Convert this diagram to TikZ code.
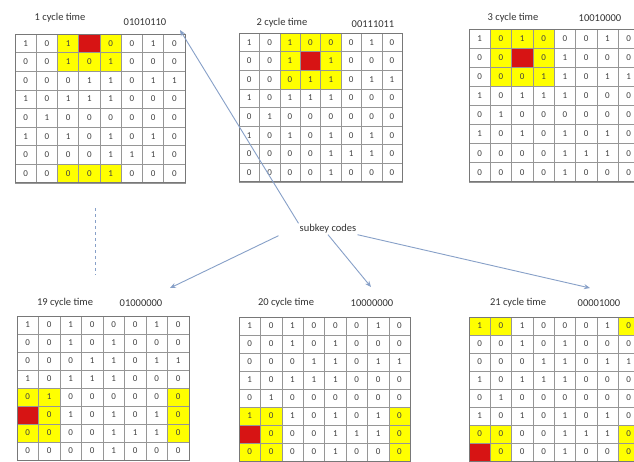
\documentclass[tikz,border=0pt]{standalone}
\usepackage{fontspec}
\setmainfont{Carlito}
\usetikzlibrary{arrows.meta,calc}
\definecolor{arrowc}{RGB}{135,160,200}
\definecolor{gridc}{RGB}{150,150,150}
\definecolor{gridd}{RGB}{120,120,120}
\definecolor{hired}{RGB}{215,20,20}
\definecolor{hiyel}{RGB}{255,255,0}
\tikzset{
  cellbox/.style={draw=gridc, line width=0.6pt, inner sep=0pt, outer sep=0pt,
    font=\fontsize{9}{10}\selectfont},
  titletext/.style={font=\fontsize{10.5}{12}\selectfont, text=black!80, inner sep=1pt},
  conn/.style={draw=arrowc, line width=0.9pt, -{Stealth[length=6pt,width=5pt]}},
  dashconn/.style={draw=arrowc, line width=0.9pt, dashed},
}
% #1 name, #2 left, #3 top, #4 cell width, #5 cell height, #6 yellow cells r/c, #7 red row, #8 red col
\newcommand\cellgrid[8]{%
  \begin{scope}[shift={(#2,#3)}]
    \foreach \yr/\yc in {#6} \fill[hiyel] ({(\yc-1)*#4},{(\yr-1)*#5}) rectangle ++(#4,#5);
    \fill[hired] ({(#8-1)*#4},{(#7-1)*#5}) rectangle ++(#4,#5);
    \foreach \rowdata [count=\r] in {{1,0,1,0,0,0,1,0},{0,0,1,0,1,0,0,0},{0,0,0,1,1,0,1,1},{1,0,1,1,1,0,0,0},{0,1,0,0,0,0,0,0},{1,0,1,0,1,0,1,0},{0,0,0,0,1,1,1,0},{0,0,0,0,1,0,0,0}}{
      \foreach \v [count=\c] in \rowdata {
        \pgfmathtruncatemacro\isred{and(\r==#7,\c==#8)}
        \ifnum\isred=1\relax\def\tc{hired}\else\def\tc{black!75}\fi
        \node[cellbox, minimum width=#4, minimum height=#5, text=\tc] (#1-\r-\c) at ({(\c-0.5)*#4},{(\r-0.5)*#5}) {\v};
      }
    }
    \draw[gridd, line width=0.8pt] (0,0) rectangle ({8*#4},{8*#5});
  \end{scope}}
\begin{document}
\begin{tikzpicture}[x=1pt,y=-1pt]
  \useasboundingbox (0,0) rectangle (634,461);
  \clip (0,0) rectangle (634,461);
  \fill[white] (0,0) rectangle (634,461);

  \cellgrid{ga}{15}{34}{21.25}{18.6}{1/3,1/5,2/3,2/4,2/5,8/3,8/4,8/5}{1}{4}
  \cellgrid{gb}{239}{33}{20.4}{18.6}{1/3,1/4,1/5,2/3,2/5,3/3,3/4,3/5}{2}{4}
  \cellgrid{gc}{469}{29}{21.3}{19.1}{1/2,1/3,1/4,2/2,2/4,3/2,3/3,3/4}{2}{3}
  \cellgrid{gd}{17}{316}{21.5}{18}{5/1,5/2,5/8,6/2,6/8,7/1,7/2,7/8}{6}{1}
  \cellgrid{ge}{239}{317}{21.4}{18}{6/1,6/2,6/8,7/2,7/8,8/1,8/2,8/8}{7}{1}
  \cellgrid{gf}{469}{317}{21.3}{18}{1/1,1/2,1/8,7/1,7/2,7/8,8/2,8/8}{8}{1}

  \node[titletext] (ta) at (60,18) {1 cycle time};
  \node[titletext] (ka) at (145,22) {01010110};
  \node[titletext] (tb) at (282,23) {2 cycle time};
  \node[titletext] (kb) at (373,24) {00111011};
  \node[titletext] (tc) at (513,18) {3 cycle time};
  \node[titletext] (kc) at (600,18) {10010000};
  \node[titletext] (td) at (65,303) {19 cycle time};
  \node[titletext] (kd) at (141,303) {01000000};
  \node[titletext] (te) at (286,303) {20 cycle time};
  \node[titletext] (ke) at (372,303) {10000000};
  \node[titletext] (tf) at (518,303) {21 cycle time};
  \node[titletext] (kf) at (599,303) {00001000};

  \node[titletext] (sub) at (328,229) {subkey codes};

  \coordinate (ea) at (180,30);
  \coordinate (ed) at (170,288);
  \coordinate (ee) at (371,287);
  \coordinate (ef) at (590,288);
  \draw[conn] (sub.north west) -- (ea);
  \draw[conn] ($(sub.south west)+(-20,1)$) -- (ed);
  \draw[conn] (sub.south) -- (ee);
  \draw[conn] (sub.south east) -- (ef);

  \coordinate (da) at (95,208);
  \coordinate (db) at (95,275);
  \draw[dashconn] (da) -- (db);
\end{tikzpicture}
\end{document}
